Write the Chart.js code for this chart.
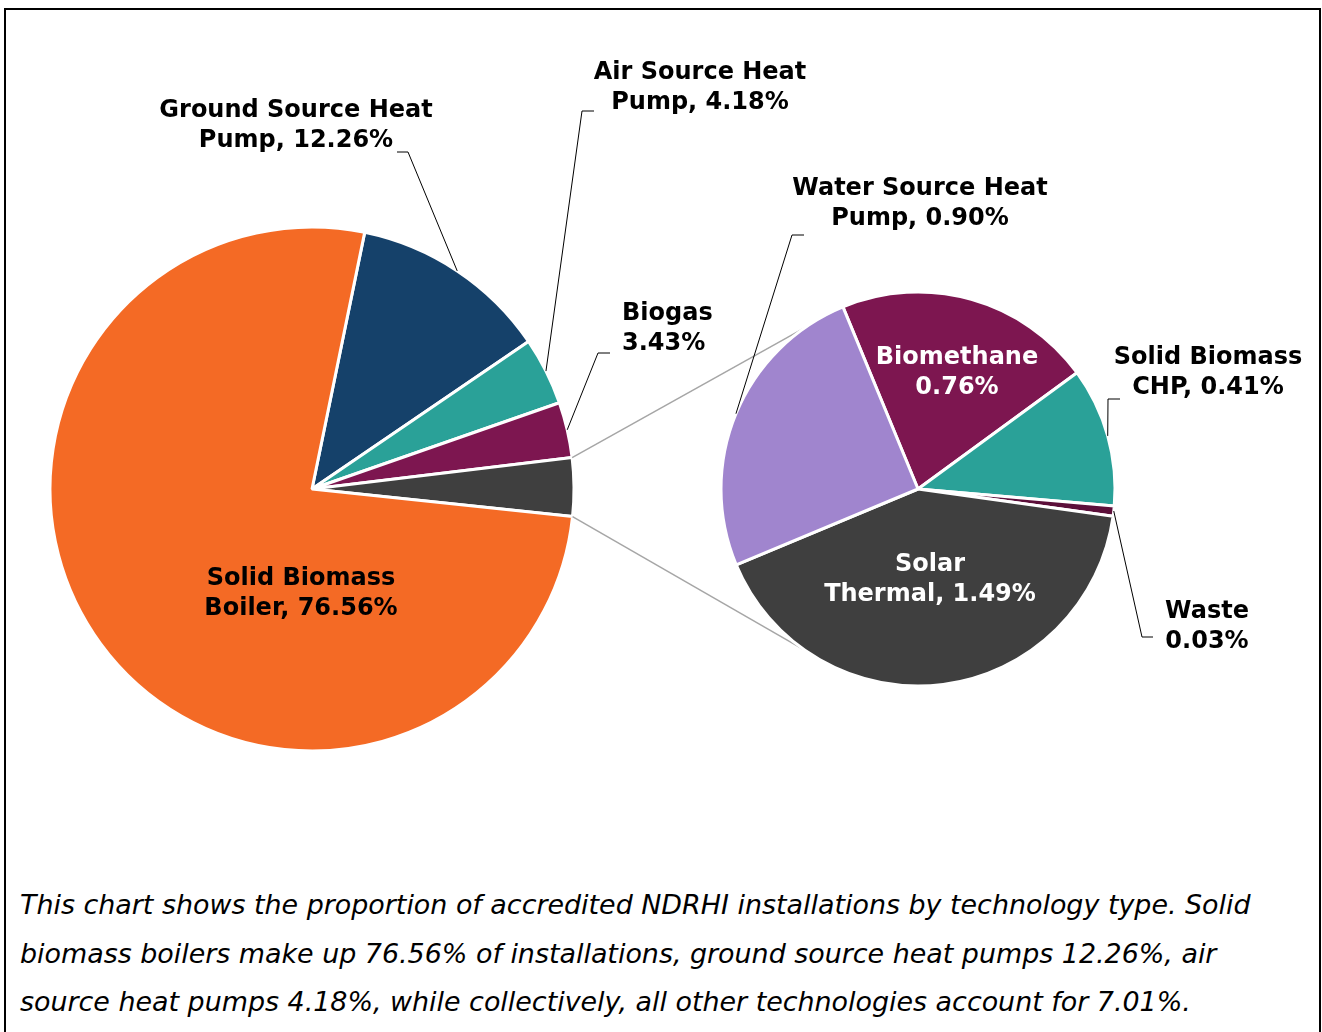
<!DOCTYPE html>
<html>
<head>
<meta charset="utf-8">
<script src="https://cdn.jsdelivr.net/npm/chart.js@4"></script>
<style>
    body { margin: 0; background: #fff; }
    #wrap { position: relative; width: 1322px; height: 1032px; overflow: hidden; }
    #frame { position: absolute; left: 4px; top: 8px; width: 1313px; height: 1040px; border: 2px solid #000; }
    canvas { position: absolute; left: 0; top: 0; }
    #caption {
        position: absolute; left: 20px; top: 881px; width: 1296px; white-space: nowrap;
        font-family: "DejaVu Sans", Verdana, sans-serif; font-style: italic;
        font-size: 26.9px; line-height: 48.5px; color: #000;
    }
</style>
</head>
<body>
<div id="wrap">
    <div id="frame"></div>
    <canvas id="mainPie" width="1322" height="860"></canvas>
    <canvas id="subPie" width="1322" height="860"></canvas>
    <div id="caption">This chart shows the proportion of accredited NDRHI installations by technology type. Solid<br>biomass boilers make up 76.56% of installations, ground source heat pumps 12.26%, air<br>source heat pumps 4.18%, while collectively, all other technologies account for 7.01%.</div>
</div>
<script>
// main pie
const mainLabels = ['Ground Source Heat Pump', 'Air Source Heat Pump', 'Biogas', 'Other', 'Solid Biomass Boiler'];
const mainValues = [12.26, 4.18, 3.43, 3.59, 76.56];
const mainColors = ['#15416A', '#2AA198', '#7D1650', '#3F3F3F', '#F46A25'];

// breakdown of "Other"
const subLabels = ['Biomethane', 'Solid Biomass CHP', 'Waste', 'Solar Thermal', 'Water Source Heat Pump'];
const subValues = [0.76, 0.41, 0.03, 1.49, 0.90];
const subColors = ['#7D1650', '#2AA198', '#5C0F3A', '#3F3F3F', '#A085CE'];

const FONT = '"DejaVu Sans", Verdana, sans-serif';

// label placement, page pixels ({v} = slice value)
const mainLayout = [
    { lines: ['Ground Source Heat', 'Pump, {v}'], x: 296, y: 111, align: 'center', leader: [[408, 152], [397, 152]] },
    { lines: ['Air Source Heat', 'Pump, {v}'], x: 700, y: 73, align: 'center', leader: [[582, 111], [594, 111]] },
    { lines: ['Biogas', '{v}'], x: 622, y: 314, align: 'left', leader: [[598, 353], [610, 353]] },
    null,
    { lines: ['Solid Biomass', 'Boiler, {v}'], x: 301, y: 579, align: 'center' }
];
const subLayout = [
    { lines: ['Biomethane', '{v}'], x: 957, y: 358, align: 'center', fill: '#fff' },
    { lines: ['Solid Biomass', 'CHP, {v}'], x: 1208, y: 358, align: 'center', leader: [[1108, 399], [1120, 399]] },
    { lines: ['Waste', '{v}'], x: 1207, y: 612, align: 'center', leader: [[1142, 637], [1153, 637]] },
    { lines: ['Solar', 'Thermal, {v}'], x: 930, y: 565, align: 'center', fill: '#fff' },
    { lines: ['Water Source Heat', 'Pump, {v}'], x: 920, y: 189, align: 'center', leader: [[792, 235], [804, 235]] }
];

function makeLabels(layout) {
    return {
        id: 'pieLabels',
        afterDraw(chart) {
            const ctx = chart.ctx;
            const values = chart.data.datasets[0].data;
            chart.getDatasetMeta(0).data.forEach((arc, i) => {
                const lay = layout[i];
                if (!lay) return;
                const p = arc.getProps(['x', 'y', 'startAngle', 'endAngle', 'outerRadius'], true);
                ctx.save();
                if (lay.leader) {
                    const mid = (p.startAngle + p.endAngle) / 2;
                    ctx.strokeStyle = '#000';
                    ctx.lineWidth = 1;
                    ctx.beginPath();
                    ctx.moveTo(p.x + Math.cos(mid) * p.outerRadius, p.y + Math.sin(mid) * p.outerRadius);
                    lay.leader.forEach(pt => ctx.lineTo(pt[0], pt[1]));
                    ctx.stroke();
                }
                ctx.font = 'bold 24px ' + FONT;
                ctx.fillStyle = lay.fill || '#000';
                ctx.textAlign = lay.align;
                ctx.textBaseline = 'middle';
                lay.lines.forEach((t, k) => {
                    ctx.fillText(t.replace('{v}', values[i].toFixed(2) + '%'), lay.x, lay.y + k * 29.5);
                });
                ctx.restore();
            });
        }
    };
}

let mainChart;

const connectors = {
    id: 'connectors',
    beforeDatasetsDraw(chart) {
        const other = mainChart.getDatasetMeta(0).data[3]
            .getProps(['x', 'y', 'startAngle', 'endAngle', 'outerRadius'], true);
        const sub = chart.getDatasetMeta(0).data[0].getProps(['x', 'y', 'outerRadius'], true);
        const ends = [-125, 125].map(a => a * Math.PI / 180);
        const ctx = chart.ctx;
        ctx.save();
        ctx.strokeStyle = '#A6A6A6';
        ctx.lineWidth = 1.5;
        [other.startAngle, other.endAngle].forEach((a, k) => {
            ctx.beginPath();
            ctx.moveTo(other.x + Math.cos(a) * other.outerRadius, other.y + Math.sin(a) * other.outerRadius);
            ctx.lineTo(sub.x + Math.cos(ends[k]) * sub.outerRadius, sub.y + Math.sin(ends[k]) * sub.outerRadius);
            ctx.stroke();
        });
        ctx.restore();
    }
};

function pieConfig(labels, values, colors, rotation, radius, padding, extra) {
    return {
        type: 'pie',
        data: {
            labels: labels,
            datasets: [{
                data: values,
                backgroundColor: colors,
                borderColor: '#fff',
                borderWidth: 3
            }]
        },
        options: {
            responsive: false,
            animation: false,
            rotation: rotation,
            radius: radius,
            layout: { padding: padding },
            plugins: {
                legend: { display: false },
                tooltip: { enabled: false }
            }
        },
        plugins: extra
    };
}

mainChart = new Chart(document.getElementById('mainPie'),
    pieConfig(mainLabels, mainValues, mainColors, 11.6, 262,
        { left: 50, right: 748, top: 227, bottom: 109 }, [makeLabels(mainLayout)]));

new Chart(document.getElementById('subPie'),
    pieConfig(subLabels, subValues, subColors, -22.4, 197,
        { left: 721, right: 207, top: 292, bottom: 174 }, [connectors, makeLabels(subLayout)]));
</script>
</body>
</html>
